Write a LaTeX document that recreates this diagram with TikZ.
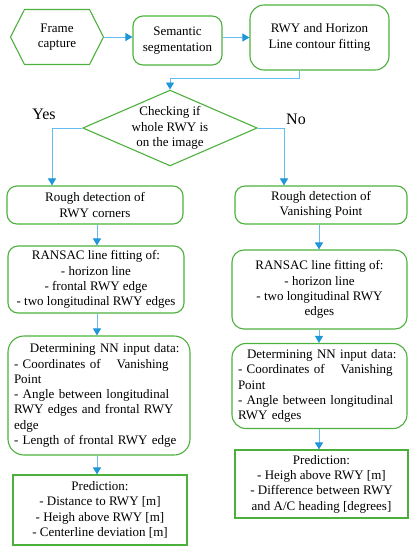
\documentclass[tikz,border=0pt]{standalone}
\usepackage{fontspec}
\setmainfont{Liberation Serif}
\usetikzlibrary{shapes.geometric, shapes.symbols, arrows.meta}
\definecolor{boxgreen}{RGB}{76,176,60}
\definecolor{linkblue}{RGB}{100,188,240}
\definecolor{tipblue}{RGB}{31,150,216}

\begin{document}
\begin{tikzpicture}[x=1pt, y=-1pt,
  every node/.style={font=\rmfamily\fontsize{13}{15.3}\selectfont},
  box/.style={draw=boxgreen, line width=1.1pt, rounded corners=10pt, align=center, inner sep=2pt},
  listbox/.style={box, text width=#1, inner sep=6pt, align=left},
  predbox/.style={draw=boxgreen, line width=1.1pt, align=center},
  answer/.style={font=\rmfamily\fontsize{16}{18}\selectfont},
  link/.style={draw=linkblue, line width=0.9pt, -{Triangle[color=tipblue, length=7pt, width=8pt]}}]
  \useasboundingbox (0,0) rectangle (413,550);
  \coordinate (colL) at (97,0);
  \coordinate (colR) at (319,0);

  % top row
  \node[draw=boxgreen, line width=1.1pt, shape=signal, signal to=east and west, signal pointer angle=126,
        minimum width=93pt, minimum height=55pt, inner sep=0pt, align=center] (capture) at (57,37) {Frame\\capture};
  \node[box, minimum width=89pt, minimum height=49pt] (seg) at (177.5,40.5) {Semantic\\segmentation};
  \node[box, rounded corners=14pt, minimum width=139pt, minimum height=65pt] (fit) at (319.5,37.5) {RWY and Horizon\\Line contour fitting};

  % decision
  \node[diamond, aspect=2.3, draw=boxgreen, line width=1.1pt, minimum width=169pt, minimum height=73pt, inner sep=0pt,
        align=center] (check) at (170,128) {Checking if\\whole RWY is\\on the image};
  \node[answer] (yes) at (44,114) {Yes};
  \node[answer] (no) at (296,119) {No};

  % left column
  \node[box, minimum width=176pt, minimum height=38pt] (rough1) at (95,205) {Rough detection of\\RWY corners};
  \node[box, minimum width=176pt, minimum height=67pt] (ransac1) at (96,279.5)
    {RANSAC line fitting of:\\- horizon line\\- frontal RWY edge\\- two longitudinal RWY edges};
  \node[listbox=170pt, rounded corners=16pt, minimum height=119pt] (nn1) at (99,395.5)
    {\hspace*{16pt}Determining NN input data:\\- Coordinates of\hspace{16pt}Vanishing\\Point\\- Angle between longitudinal\\RWY edges and frontal RWY\\edge\\- Length of frontal RWY edge};
  \node[predbox, minimum width=174pt, minimum height=70pt] (pred1) at (100,510)
    {Prediction:\\- Distance to RWY [m]\\- Heigh above RWY [m]\\- Centerline deviation [m]};

  % right column
  \node[box, minimum width=172pt, minimum height=38pt] (rough2) at (321,205) {Rough detection of\\Vanishing Point};
  \node[box, rounded corners=12pt, minimum width=175pt, minimum height=79pt] (ransac2) at (319.5,289.5)
    {RANSAC line fitting of:\\- horizon line\\- two longitudinal RWY\\edges};
  \node[listbox=163pt, rounded corners=14pt, minimum height=84pt] (nn2) at (319.5,386)
    {\hspace*{9pt}Determining NN input data:\\- Coordinates of\hspace{16pt}Vanishing\\Point\\- Angle between longitudinal\\RWY edges};
  \node[predbox, minimum width=173pt, minimum height=68pt] (pred2) at (321.5,484)
    {Prediction:\\- Heigh above RWY [m]\\- Difference between RWY\\and A/C heading [degrees]};

  % connectors
  \draw[link] (capture.east) -- (seg.west |- capture.east);
  \draw[link] (seg.east |- fit.west) -- (fit.west);
  \draw[link] ([xshift=-20pt]fit.south) -- ++(0,8) -| (check.north);
  \draw[link] (check.west) -| ([xshift=-43pt]rough1.north);
  \draw[link] (check.east) -| ([xshift=-37pt]rough2.north);
  \draw[link] (rough1.south -| colL) -- (ransac1.north -| colL);
  \draw[link] (ransac1.south -| colL) -- (nn1.north -| colL);
  \draw[link] (nn1.south -| colL) -- (pred1.north -| colL);
  \draw[link] (rough2.south -| colR) -- (ransac2.north -| colR);
  \draw[link] (ransac2.south -| colR) -- (nn2.north -| colR);
  \draw[link] (nn2.south -| colR) -- (pred2.north -| colR);
\end{tikzpicture}
\end{document}
